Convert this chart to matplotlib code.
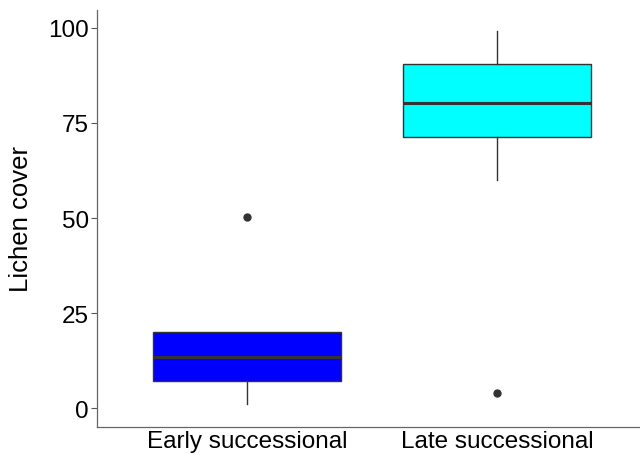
import matplotlib
matplotlib.use('Agg')
import matplotlib.pyplot as plt

plt.rcParams['font.family'] = ['Liberation Sans', 'DejaVu Sans']

# box statistics
groups = ['Early successional', 'Late successional']
q1 = [7.1, 71.4]
median = [13.5, 80.2]
q3 = [20.1, 90.5]
whis_lo = [1.0, 60.0]
whis_hi = [20.1, 99.2]
outliers = [[50.3], [4.0]]
fills = ['#0000FF', '#00FFFF']

stats = []
for i in range(len(groups)):
    stats.append({'label': groups[i], 'q1': q1[i], 'med': median[i], 'q3': q3[i],
                  'whislo': whis_lo[i], 'whishi': whis_hi[i], 'fliers': outliers[i]})

fig = plt.figure(figsize=(6.4, 4.56), dpi=100)
ax = fig.add_axes([0.1516, 0.0616, 0.848, 0.9144])

edge = '#333333'
bp = ax.bxp(stats, positions=[1, 2], widths=0.75, patch_artist=True, showcaps=False,
            boxprops=dict(edgecolor=edge, linewidth=1.0),
            whiskerprops=dict(color=edge, linewidth=1.0),
            medianprops=dict(color=edge, linewidth=2.2),
            flierprops=dict(marker='o', markerfacecolor=edge, markeredgecolor=edge, markersize=5))
for patch, c in zip(bp['boxes'], fills):
    patch.set_facecolor(c)

ax.set_xlim(0.4, 2.57)
ax.set_ylim(-4.9, 104.7)
ax.set_yticks([0, 25, 50, 75, 100])
ax.set_xticks([1, 2])
ax.set_xticklabels(groups)
ax.set_ylabel('Lichen cover', fontsize=18.5, color='black', labelpad=11)
ax.tick_params(axis='y', labelsize=17.5, colors='#555555', labelcolor='black', length=4, width=0.8, pad=2)
ax.tick_params(axis='x', labelsize=17.5, labelcolor='black', length=0, pad=2)
for s in ['top', 'right']:
    ax.spines[s].set_visible(False)
for s in ['left', 'bottom']:
    ax.spines[s].set_color('#666666')
    ax.spines[s].set_linewidth(0.9)

fig.savefig('out.png', dpi=100)
